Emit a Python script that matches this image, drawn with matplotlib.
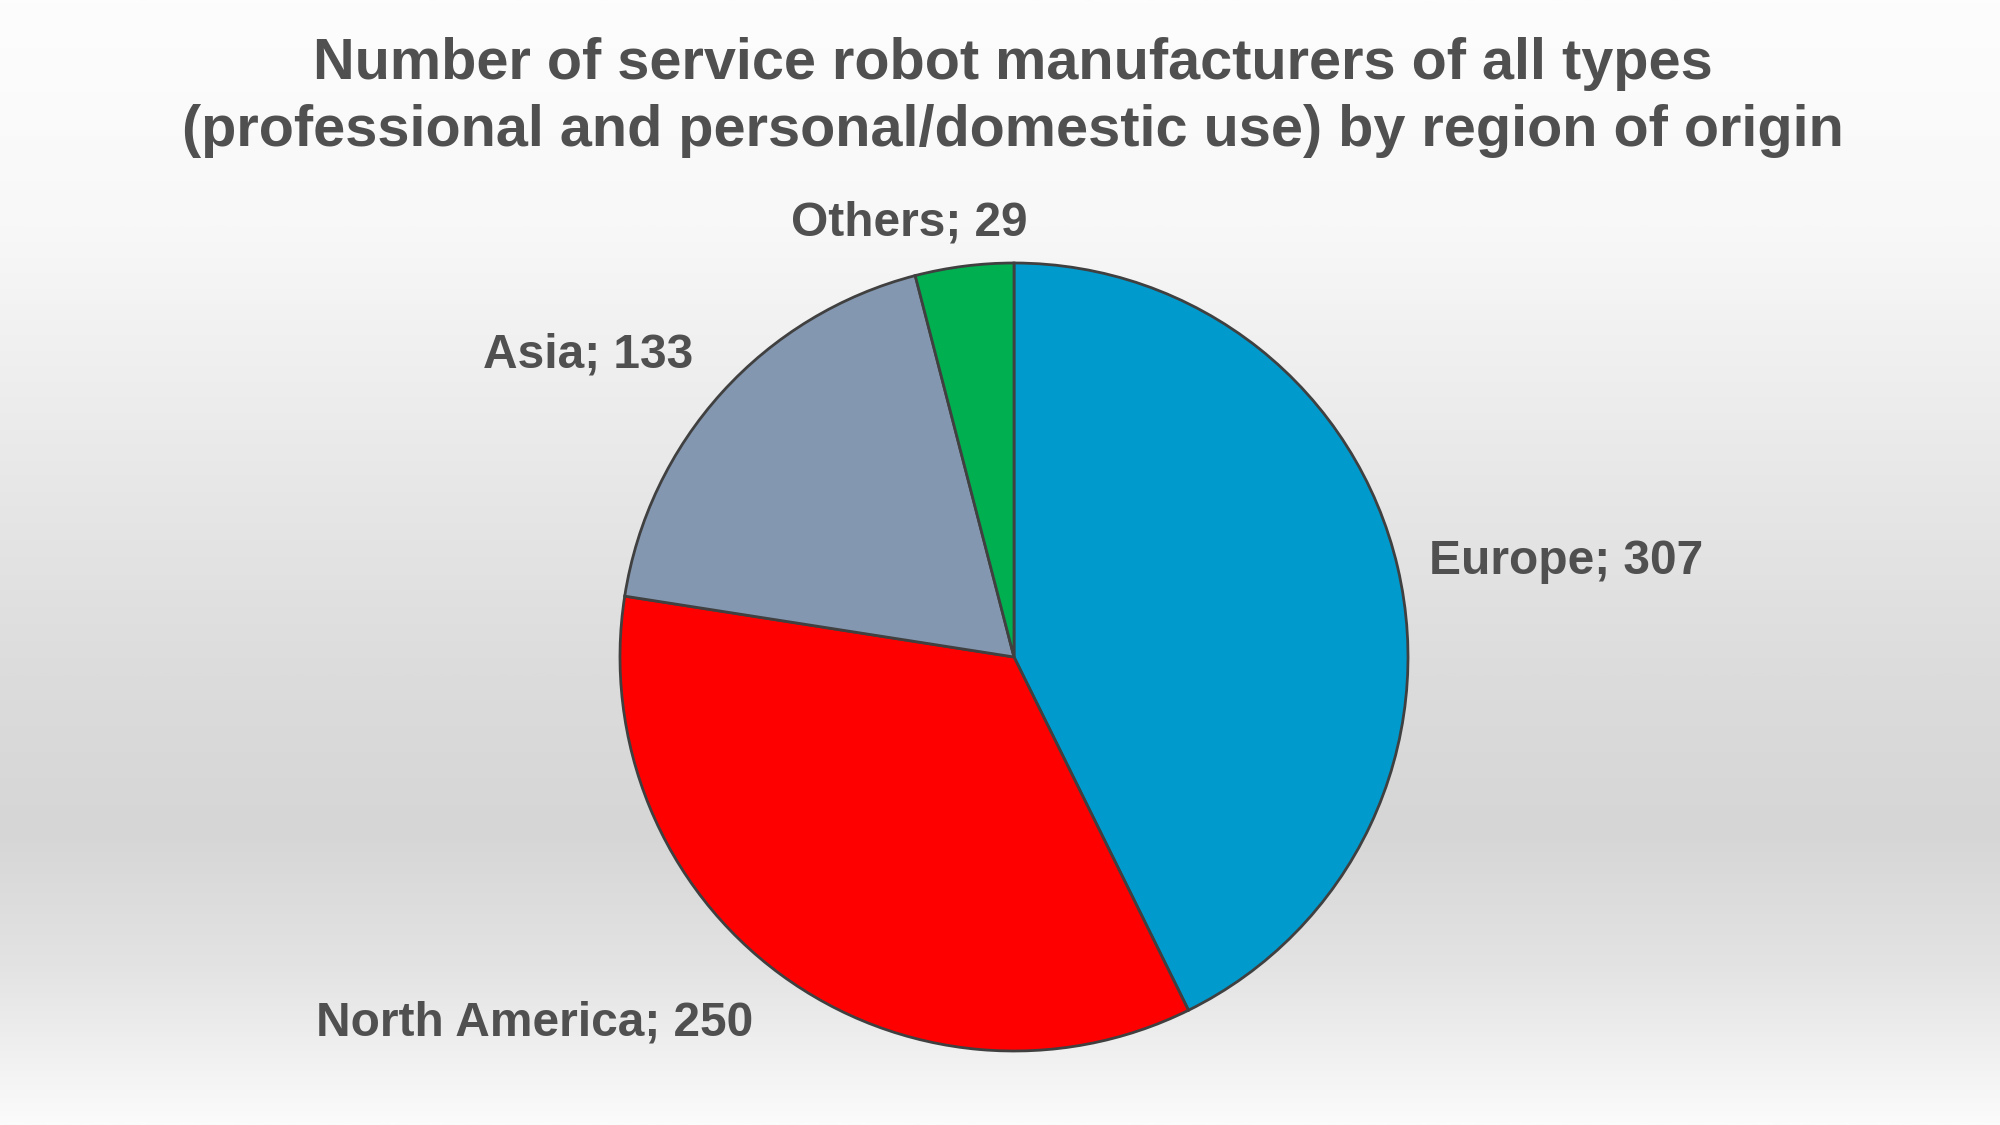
import numpy as np
import matplotlib
matplotlib.use("Agg")
import matplotlib.pyplot as plt
from matplotlib.colors import LinearSegmentedColormap
import matplotlib.transforms as mtransforms

# ---- data ----
regions = ["Europe", "North America", "Asia", "Others"]
counts = [307, 250, 133, 29]
colors = ["#009ACD", "#FF0000", "#8497B0", "#00B050"]
title_lines = ["Number of service robot manufacturers of all types",
               "(professional and personal/domestic use) by region of origin"]

# label styling (alignment + pixel nudges)
label_align = [("left", "center"), ("right", "center"), ("right", "center"), ("center", "center")]
label_nudge = [(-11, -4), (-2, -14), (3, 8), (-49, 0)]

W, H, DPI = 2000, 1125, 100
fig = plt.figure(figsize=(W / DPI, H / DPI), dpi=DPI)

# background gradient
bg = fig.add_axes([0, 0, 1, 1], zorder=0)
bg.axis("off")
grad_cmap = LinearSegmentedColormap.from_list(
    "bg", [(0.0, "#fdfdfd"), (0.2, "#f8f8f8"), (0.45, "#e6e6e6"),
           (0.6, "#dcdcdc"), (0.74, "#d6d6d6"), (0.86, "#e3e3e3"), (1.0, "#fbfbfb")])
g = np.linspace(0, 1, 512).reshape(-1, 1)
bg.imshow(g, cmap=grad_cmap, aspect="auto", extent=[0, 1, 0, 1], origin="upper",
          interpolation="bilinear", vmin=0, vmax=1)
bg.set_xlim(0, 1)
bg.set_ylim(0, 1)

# pie axes
cx, cy, r = 1014, 657, 394
ax = fig.add_axes([(cx - r) / W, 1 - (cy + r) / H, 2 * r / W, 2 * r / H], zorder=1)
wedges, _ = ax.pie(counts, colors=colors, startangle=90, counterclock=False,
                   wedgeprops=dict(edgecolor="#404040", linewidth=2.0))
ax.set_xlim(-1, 1)
ax.set_ylim(-1, 1)
ax.set_aspect("equal")
ax.axis("off")

txt_color = "#505050"
for w, name, val, (ha, va), (dx, dy) in zip(wedges, regions, counts, label_align, label_nudge):
    mid = np.deg2rad((w.theta1 + w.theta2) / 2)
    x, y = 1.11 * np.cos(mid), 1.11 * np.sin(mid)
    tr = mtransforms.offset_copy(ax.transData, fig=fig, x=dx, y=dy, units="dots")
    ax.text(x, y, f"{name}; {val}", ha=ha, va=va, transform=tr, fontsize=34.5,
            fontweight="bold", family="Liberation Sans", color=txt_color, clip_on=False)

# title
for i, line in enumerate(title_lines):
    fig.text(1013 / W, 1 - (64 + 67 * i) / H, line, ha="center", va="center",
             fontsize=41.5, fontweight="bold", family="Liberation Sans", color=txt_color)

fig.savefig("out.png", dpi=DPI)
